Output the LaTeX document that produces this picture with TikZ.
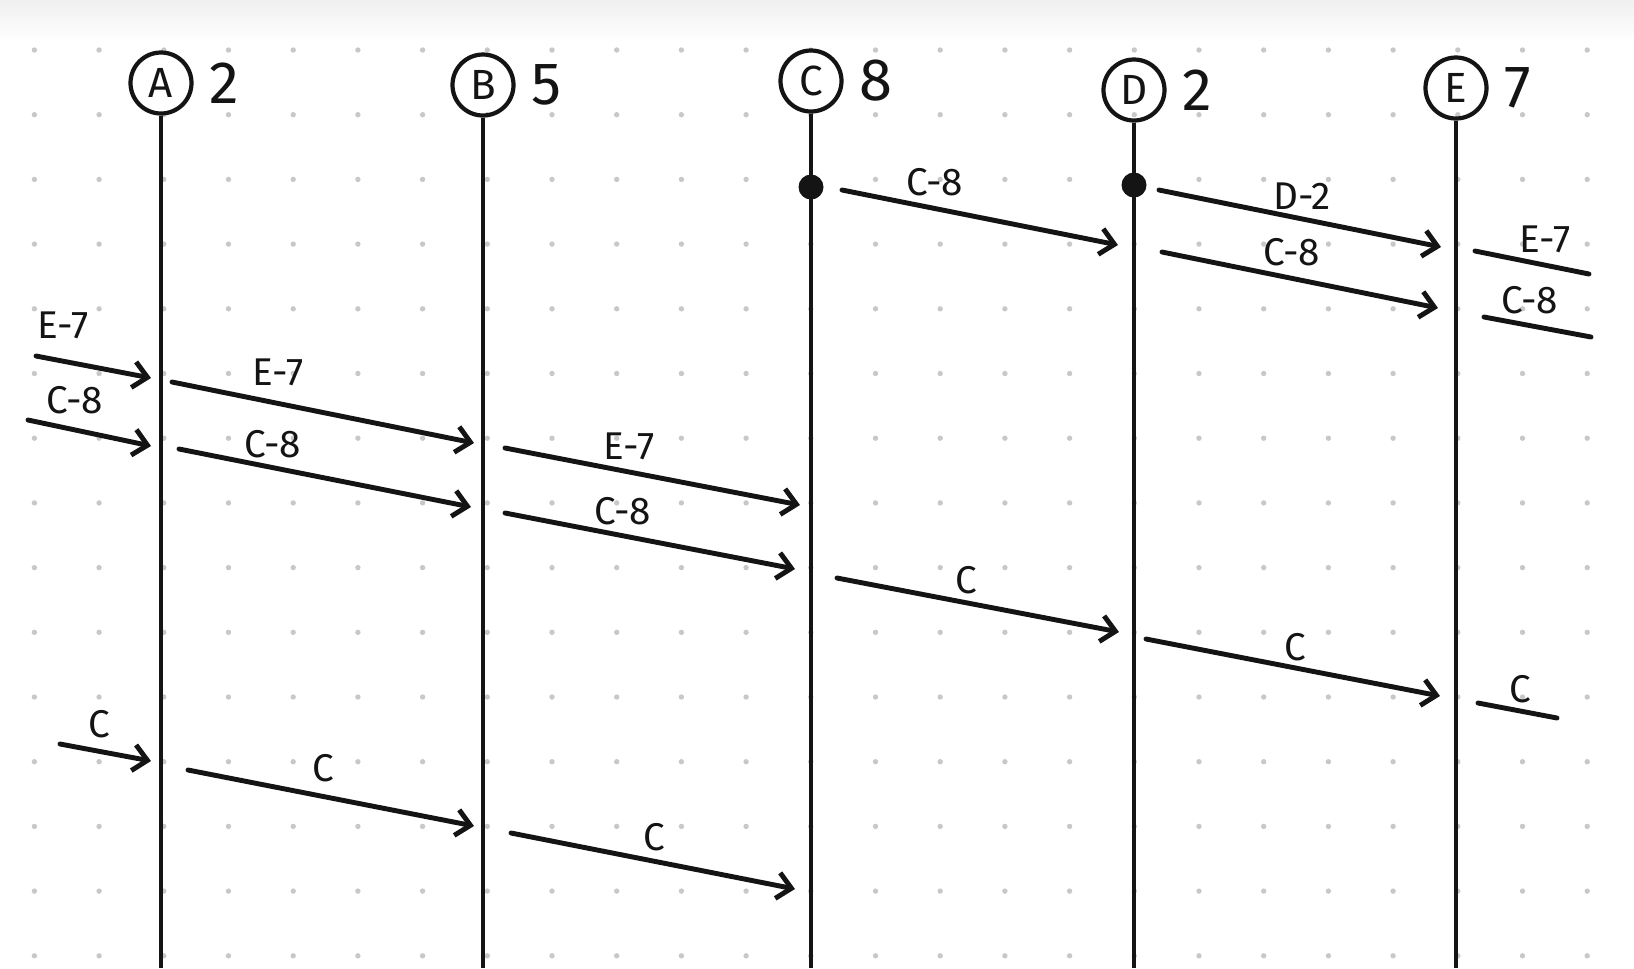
\documentclass[tikz,border=0pt]{standalone}
\usepackage{fontspec}
\setmainfont{Fira Sans}
\usetikzlibrary{arrows.meta,positioning}
\definecolor{ink}{RGB}{20,20,20}
\definecolor{dotgray}{RGB}{200,200,200}
\tikzset{
  actor/.style={
    draw=ink, line width=1.2pt, circle, minimum size=6.1mm,
    inner sep=0pt, font=\fontsize{12}{13}\selectfont, text=ink,
  },
  count/.style={font=\fontsize{17}{18}\selectfont, text=ink, inner sep=0pt},
  life/.style={draw=ink, line width=1pt},
  msg/.style={-{Straight Barb[length=1.4mm,width=2.6mm]}, line width=1.4pt, draw=ink, line cap=round},
  stub/.style={line width=1.4pt, draw=ink, line cap=round},
  lbl/.style={font=\fontsize{11}{12}\selectfont, text=ink, inner sep=0pt},
  origin/.style={circle, fill=ink, minimum size=2.5mm, inner sep=0pt},
}
\begin{document}
\begin{tikzpicture}[x=0.1mm,y=-0.1mm]
  \useasboundingbox (0,0) rectangle (1634,968);
  \shade[top color=black!6, bottom color=white, draw=none] (0,0) rectangle (1634,42);

  % dotted paper
  \foreach \i in {0,...,24}
    \foreach \j in {0,...,14}
      \fill[dotgray] (34.4+64.7*\i,50+64.7*\j) circle[radius=0.27mm];

  \coordinate (bot) at (0,968);

  % processes and their values
  \node[actor] (ha) at (161,83) {A};
  \node[count, right=1.5mm of ha] (na) {2};
  \node[actor] (hb) at (483,85) {B};
  \node[count, right=1.5mm of hb] (nb) {5};
  \node[actor] (hc) at (811,81) {C};
  \node[count, right=1.5mm of hc] (nc) {8};
  \node[actor] (hd) at (1134,90) {D};
  \node[count, right=1.5mm of hd] (nd) {2};
  \node[actor] (he) at (1456,88) {E};
  \node[count, right=1.5mm of he] (ne) {7};

  \draw[life] (ha.south) -- (ha.south |- bot);
  \draw[life] (hb.south) -- (hb.south |- bot);
  \draw[life] (hc.south) -- (hc.south |- bot);
  \draw[life] (hd.south) -- (hd.south |- bot);
  \draw[life] (he.south) -- (he.south |- bot);

  \node[origin] (oc) at (811,187) {};
  \node[origin] (od) at (1134,185) {};

  % first round
  \coordinate (m1a) at (842,190);  \coordinate (m1b) at (1118,245);
  \draw[msg] (m1a) -- (m1b);
  \node[lbl] (m1l) at (935,182) {C-8};
  \coordinate (m2a) at (1159,190); \coordinate (m2b) at (1441,247);
  \draw[msg] (m2a) -- (m2b);
  \node[lbl] (m2l) at (1302,196) {D-2};
  \coordinate (m3a) at (1162,252); \coordinate (m3b) at (1438,308);
  \draw[msg] (m3a) -- (m3b);
  \node[lbl] (m3l) at (1292,252) {C-8};
  \coordinate (m4a) at (1475,251); \coordinate (m4b) at (1589,274);
  \draw[stub] (m4a) -- (m4b);
  \node[lbl] (m4l) at (1545,239) {E-7};
  \coordinate (m5a) at (1484,317); \coordinate (m5b) at (1591,337);
  \draw[stub] (m5a) -- (m5b);
  \node[lbl] (m5l) at (1530,300) {C-8};

  % wrap around to A
  \coordinate (m6a) at (36,356);   \coordinate (m6b) at (151,378);
  \draw[msg] (m6a) -- (m6b);
  \node[lbl] (m6l) at (63,325) {E-7};
  \coordinate (m7a) at (172,382);  \coordinate (m7b) at (474,443);
  \draw[msg] (m7a) -- (m7b);
  \node[lbl] (m7l) at (278,372) {E-7};
  \coordinate (m8a) at (28,420);   \coordinate (m8b) at (151,446);
  \draw[msg] (m8a) -- (m8b);
  \node[lbl] (m8l) at (75,400) {C-8};
  \coordinate (m9a) at (179,449);  \coordinate (m9b) at (471,507);
  \draw[msg] (m9a) -- (m9b);
  \node[lbl] (m9l) at (273,444) {C-8};
  \coordinate (m10a) at (505,448); \coordinate (m10b) at (800,505);
  \draw[msg] (m10a) -- (m10b);
  \node[lbl] (m10l) at (629,446) {E-7};
  \coordinate (m11a) at (505,513); \coordinate (m11b) at (795,569);
  \draw[msg] (m11a) -- (m11b);
  \node[lbl] (m11l) at (623,511) {C-8};

  % second round
  \coordinate (m12a) at (837,578);  \coordinate (m12b) at (1119,632);
  \draw[msg] (m12a) -- (m12b);
  \node[lbl] (m12l) at (966,580) {C};
  \coordinate (m13a) at (1146,639); \coordinate (m13b) at (1440,696);
  \draw[msg] (m13a) -- (m13b);
  \node[lbl] (m13l) at (1295,647) {C};
  \coordinate (m14a) at (1478,703); \coordinate (m14b) at (1557,718);
  \draw[stub] (m14a) -- (m14b);
  \node[lbl] (m14l) at (1520,689) {C};
  \coordinate (m15a) at (60,744);   \coordinate (m15b) at (151,761);
  \draw[msg] (m15a) -- (m15b);
  \node[lbl] (m15l) at (99,724) {C};
  \coordinate (m16a) at (188,770);  \coordinate (m16b) at (474,826);
  \draw[msg] (m16a) -- (m16b);
  \node[lbl] (m16l) at (323,768) {C};
  \coordinate (m17a) at (511,833);  \coordinate (m17b) at (795,889);
  \draw[msg] (m17a) -- (m17b);
  \node[lbl] (m17l) at (654,837) {C};
\end{tikzpicture}
\end{document}
